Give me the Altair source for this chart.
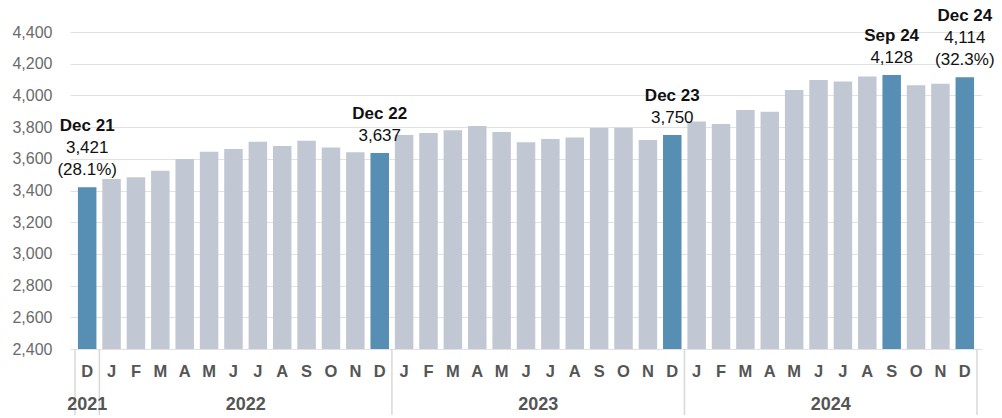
import altair as alt
import pandas as pd

months = ["D", "J", "F", "M", "A", "M", "J", "J", "A", "S", "O", "N", "D",
          "J", "F", "M", "A", "M", "J", "J", "A", "S", "O", "N", "D",
          "J", "F", "M", "A", "M", "J", "J", "A", "S", "O", "N", "D"]
values = [3421, 3472, 3483, 3525, 3599, 3645, 3662, 3708, 3681, 3714, 3672, 3641, 3637,
          3750, 3763, 3780, 3807, 3769, 3704, 3725, 3735, 3794, 3796, 3719, 3750,
          3836, 3820, 3908, 3897, 4034, 4097, 4087, 4120, 4128, 4064, 4074, 4114]
highlight_idx = [0, 12, 24, 33, 36]
highlight_names = ["Dec 21", "Dec 22", "Dec 23", "Sep 24", "Dec 24"]
highlight_text = ["3,421", "3,637", "3,750", "4,128", "4,114"]
highlight_pct = ["(28.1%)", "", "", "", "(32.3%)"]
years = ["2021", "2022", "2023", "2024"]
year_first = [0, 1, 13, 25]
year_last = [0, 12, 24, 36]
y_ticks = [2400, 2600, 2800, 3000, 3200, 3400, 3600, 3800, 4000, 4200, 4400]

HL = "#568fb3"
LIGHT = "#c1c8d3"
FONT = "Liberation Sans"
W, H = 912, 317

bars = pd.DataFrame({
    "idx": list(range(len(values))),
    "value": values,
    "month": months,
    "hl": ["y" if i in highlight_idx else "n" for i in range(len(values))],
})

ann_rows = []
for i, nm, tx, pc in zip(highlight_idx, highlight_names, highlight_text, highlight_pct):
    lines = [(nm, True), (tx, False)] + ([(pc, False)] if pc else [])
    n = len(lines)
    for j, (t, b) in enumerate(lines):
        ann_rows.append({"idx": i, "value": values[i], "text": t, "k": n - 1 - j, "bold": b})
ann = pd.DataFrame(ann_rows)

yrs = pd.DataFrame({
    "year": years,
    "mid": [(a + b) / 2 for a, b in zip(year_first, year_last)],
})
bounds = pd.DataFrame({"b": sorted(set([f - 0.5 for f in year_first] + [year_last[-1] + 0.5]))})

xscale = alt.Scale(domain=[-0.5, len(values) - 0.5], nice=False, zero=False)
yscale = alt.Scale(domain=[y_ticks[0], y_ticks[-1]], nice=False, zero=False)
y_axis = alt.Axis(values=y_ticks, format=",.0f", title=None, tickCount=11,
                  domain=False, ticks=False, grid=True, gridColor="#e2e2e2",
                  gridWidth=1.2, labelFont=FONT, labelFontSize=16,
                  labelColor="#6b6b6b", labelPadding=18, labelOverlap=False)

base = alt.Chart(bars)

bar_layer = base.mark_bar(size=18.5).encode(
    x=alt.X("idx:Q", scale=xscale, axis=None),
    y=alt.Y("value:Q", scale=yscale, axis=y_axis),
    y2=alt.datum(y_ticks[0]),
    color=alt.Color("hl:N", scale=alt.Scale(domain=["y", "n"], range=[HL, LIGHT]), legend=None),
)

month_layer = base.mark_text(font=FONT, fontSize=16.5, fontWeight="bold", color="#555555",
                             baseline="middle", align="center").encode(
    x=alt.X("idx:Q", scale=xscale, axis=None),
    y=alt.value(340),
    text="month:N",
)

year_layer = alt.Chart(yrs).mark_text(font=FONT, fontSize=18, fontWeight="bold", color="#555555",
                                      baseline="middle", align="center").encode(
    x=alt.X("mid:Q", scale=xscale, axis=None),
    y=alt.value(373),
    text="year:N",
)

sep_layer = alt.Chart(bounds).mark_rule(color="#d8d8d8", strokeWidth=1.5).encode(
    x=alt.X("b:Q", scale=xscale, axis=None),
    y=alt.value(H),
    y2=alt.value(H + 72),
)

ann_layers = []
for k in sorted(ann["k"].unique()):
    for b in [True, False]:
        sub = ann[(ann["k"] == k) & (ann["bold"] == b)]
        if len(sub) == 0:
            continue
        ann_layers.append(
            alt.Chart(sub).mark_text(font=FONT, fontSize=17, fontWeight="bold" if b else "normal",
                                     color="#111111", baseline="middle", align="center",
                                     dy=-(17 + 22 * int(k))).encode(
                x=alt.X("idx:Q", scale=xscale, axis=None),
                y=alt.Y("value:Q", scale=yscale, axis=y_axis),
                text="text:N",
            )
        )

chart = alt.layer(bar_layer, sep_layer, month_layer, year_layer, *ann_layers).properties(
    width=W, height=H,
    autosize=alt.AutoSizeParams(type="none"),
    padding={"left": 62, "top": 24, "right": 12, "bottom": 66},
).configure_view(stroke=None)

chart.save("out.html", embed_options={"renderer": "svg", "actions": False})
